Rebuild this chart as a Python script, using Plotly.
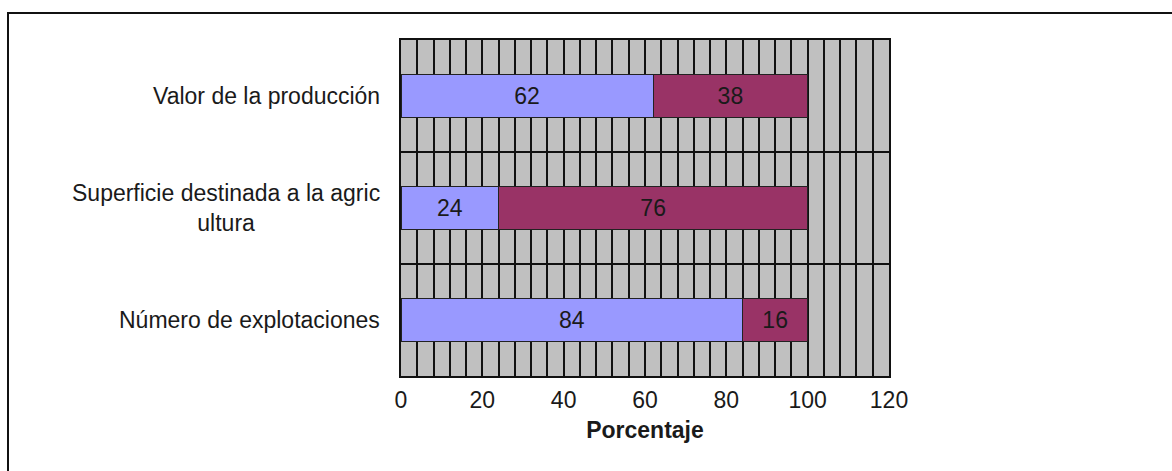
import plotly.graph_objects as go

# Categories (bottom to top) and the two shares (percent) for each
categorias = ["Número de explotaciones", "Superficie destinada a la agric<br>ultura", "Valor de la producción"]
serie_a = [84, 24, 62]
serie_b = [16, 76, 38]
x_ticks = [0, 20, 40, 60, 80, 100, 120]

W, H = 1172, 471
L, R, T, B = 401, 283, 40, 95
pw, ph = W - L - R, H - T - B

FONT = "Arial, Liberation Sans, sans-serif"
fs = 23

pos = list(range(len(categorias)))

fig = go.Figure()
fig.add_trace(go.Bar(
    y=pos, x=serie_a, orientation="h", width=0.39,
    marker=dict(color="#9999FF", line=dict(color="#222222", width=1)),
    text=serie_a, textposition="inside", insidetextanchor="middle",
    textfont=dict(family=FONT, size=fs, color="#1a1a1a"),
    constraintext="none", hoverinfo="skip",
))
fig.add_trace(go.Bar(
    y=pos, x=serie_b, orientation="h", width=0.39,
    marker=dict(color="#993366", line=dict(color="#222222", width=1)),
    text=serie_b, textposition="inside", insidetextanchor="middle",
    textfont=dict(family=FONT, size=fs, color="#1a1a1a"),
    constraintext="none", hoverinfo="skip",
))

# Category labels, centred on each line
for p, c in zip(pos, categorias):
    fig.add_annotation(
        x=0, xref="paper", y=p, yref="y", text=c, showarrow=False,
        xanchor="right", xshift=-19, align="center",
        font=dict(family=FONT, size=fs, color="#1a1a1a"),
    )

# Outer frame of the chart
fig.add_shape(
    type="rect", xref="paper", yref="paper",
    x0=(8 - L) / pw, x1=(W + 10 - L) / pw,
    y0=1 - (H + 10 - T) / ph, y1=1 + (T - 13) / ph,
    line=dict(color="#111111", width=2), fillcolor="rgba(0,0,0,0)", layer="above",
)

fig.update_layout(
    width=W, height=H, barmode="stack", showlegend=False,
    margin=dict(l=L, r=R, t=T, b=B, pad=0),
    paper_bgcolor="white", plot_bgcolor="#C0C0C0",
    font=dict(family=FONT, size=fs, color="#1a1a1a"),
    xaxis=dict(
        range=[0, 120], tickvals=x_ticks, ticks="", showgrid=True,
        gridcolor="#111111", gridwidth=1.5, zeroline=False,
        showline=True, linecolor="#111111", linewidth=1.5, mirror=True,
        minor=dict(dtick=4, tick0=0, showgrid=True, gridcolor="#111111", gridwidth=1.5),
        tickfont=dict(family=FONT, size=fs, color="#1a1a1a"),
        ticklabelstandoff=3,
        title=dict(text="<b>Porcentaje</b>", font=dict(family=FONT, size=fs, color="#1a1a1a"), standoff=10),
    ),
    yaxis=dict(
        range=[-0.5, 2.5], tickvals=pos, showticklabels=False, ticks="",
        showgrid=False, zeroline=False,
        showline=True, linecolor="#111111", linewidth=1.5, mirror=True,
        minor=dict(tick0=0.5, dtick=1, showgrid=True, gridcolor="#111111", gridwidth=1.5),
    ),
)

fig.write_html("out.html")
